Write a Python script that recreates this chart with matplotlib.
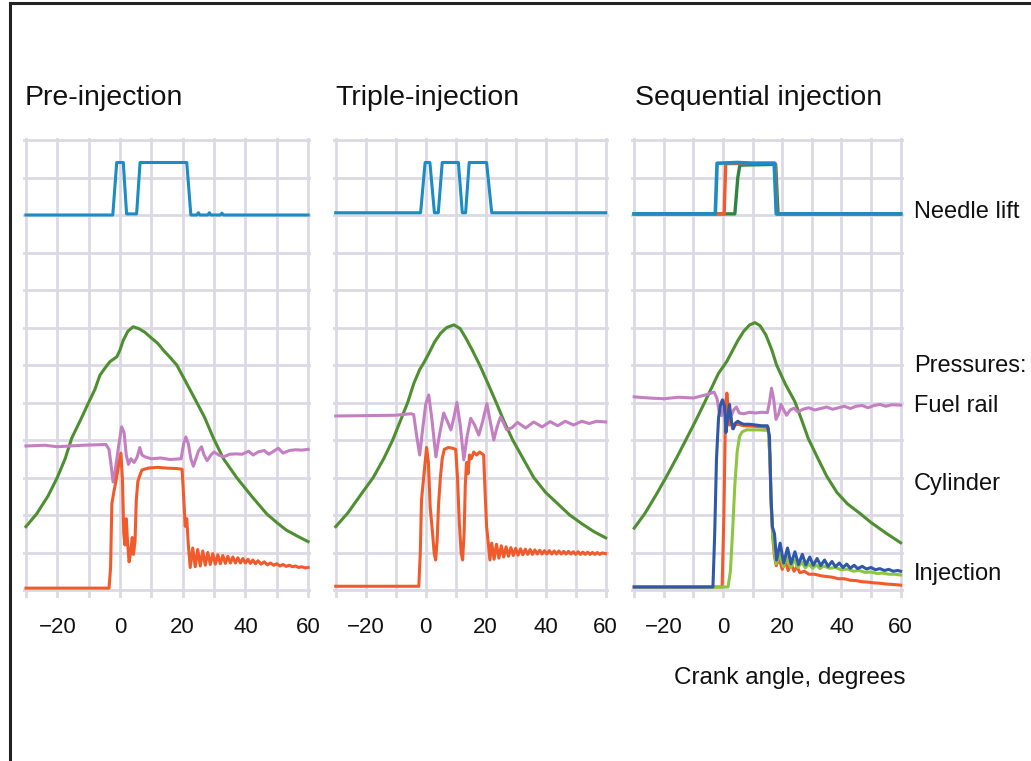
import matplotlib
matplotlib.use("Agg")
import matplotlib.pyplot as plt
from matplotlib.lines import Line2D

W, H = 1031, 761
FONT = ['Liberation Sans', 'DejaVu Sans']
plt.rcParams['font.family'] = FONT

# ---------------- data (crank angle in degrees, signal in grid units) ----------------
titles = ["Pre-injection", "Triple-injection", "Sequential injection"]
x_ticks = [-20, 0, 20, 40, 60]
row_labels = ["Needle lift", "Pressures:", "Fuel rail", "Cylinder", "Injection"]
x_label = "Crank angle, degrees"

# Panel 1 : pre-injection
p1_needle_x = [-30, -2.3, -1.05, 1.05, 2.1, 5.3, 6.4, 21.3, 22.6, 24.5, 25, 25.5, 28, 28.5, 29, 32, 32.5, 33, 60]
p1_needle_y = [10.0, 10.0, 11.4, 11.4, 10.03, 10.03, 11.4, 11.4, 10.0, 10.0, 10.06, 10.0, 10.0, 10.06, 10.0, 10.0, 10.05, 10.0, 10.0]

p1_cyl_x = [-30, -26.6, -23, -20, -17.5, -15.4, -12.5, -10, -8, -6.4, -4.5, -3.2, -1.0, 0, 1, 2.5, 4.2, 6, 8, 10,
            12, 14, 16, 18.1, 21, 24.5, 27, 29.8, 33, 37.2, 42, 46.8, 50, 53, 56.5, 60]
p1_cyl_y = [1.69, 2.03, 2.5, 3.0, 3.5, 4.05, 4.55, 5.0, 5.35, 5.73, 5.95, 6.09, 6.22, 6.4, 6.65, 6.9, 7.02, 6.97, 6.87, 6.72,
            6.58, 6.38, 6.2, 6.0, 5.55, 5.0, 4.6, 4.05, 3.5, 3.0, 2.5, 2.03, 1.8, 1.6, 1.44, 1.29]

p1_rail_x = [-30, -24, -20, -12, -4.5, -3.5, -2.8, -2.2, -1.5, -0.5, 0.5, 1.3, 2.0, 2.7, 3.5, 4.5, 5.5, 6.3, 7, 8, 10,
             13, 16, 19.5, 20.3, 21, 21.8, 22.6, 23.4, 24, 25, 26, 26.8, 27.8, 29, 30, 31.5, 33, 35, 37, 39, 41,
             42.5, 44, 46, 47.5, 49, 50.5, 52, 54, 56, 58, 60]
p1_rail_y = [3.84, 3.86, 3.82, 3.86, 3.88, 3.75, 3.3, 2.88, 3.2, 3.8, 4.35, 4.2, 3.6, 3.35, 3.5, 3.4, 3.55, 3.8, 3.6, 3.55, 3.5,
             3.52, 3.48, 3.5, 3.9, 4.08, 3.9, 3.5, 3.3, 3.45, 3.7, 3.82, 3.6, 3.45, 3.6, 3.68, 3.6, 3.55, 3.62, 3.63, 3.62, 3.7,
             3.6, 3.68, 3.72, 3.62, 3.7, 3.78, 3.65, 3.72, 3.74, 3.73, 3.75]

p1_inj_x = [-30, -3.5, -3.0, -2.6, -2.0, -1.3, -0.5, 0.3, 0.8, 1.2, 1.6, 2.0, 2.4, 2.9, 3.4, 3.9, 4.3, 4.8, 5.2, 5.7,
            6.3, 7, 9, 12, 15, 18, 19.8, 20.3, 20.8, 21.3, 21.8, 22.4, 23.2, 24.0, 24.8, 25.6, 26.4, 27.2, 28.0, 28.8,
            29.6, 30.4, 31.2, 32.0, 32.8, 33.6, 34.4, 35.2, 36.0, 36.8, 37.6, 38.4, 39.2, 40.0, 40.8, 41.6, 42.4, 43.2,
            44.0, 45, 46, 47, 48, 49, 50, 51, 52, 53, 54, 55, 56, 57, 58, 59, 60]
p1_inj_y = [0.05, 0.05, 0.6, 2.3, 2.6, 2.9, 3.3, 3.65, 2.9, 1.5, 1.2, 1.9, 1.3, 0.75, 1.0, 1.4, 0.95, 1.3, 2.4, 2.9,
            3.05, 3.2, 3.25, 3.27, 3.25, 3.24, 3.22, 2.5, 1.7, 1.9, 1.2, 0.6, 1.12, 0.62, 1.08, 0.64, 1.04, 0.66, 1.0, 0.68,
            0.97, 0.69, 0.94, 0.7, 0.92, 0.71, 0.9, 0.72, 0.88, 0.72, 0.86, 0.72, 0.84, 0.72, 0.82, 0.71, 0.8, 0.7,
            0.78, 0.69, 0.75, 0.67, 0.72, 0.66, 0.7, 0.64, 0.68, 0.63, 0.66, 0.62, 0.64, 0.6, 0.62, 0.59, 0.6]

# Panel 2 : triple-injection
p2_needle_x = [-30, -1.7, -0.2, 1.4, 2.9, 4.2, 5.5, 10.9, 12.2, 13.3, 14.5, 20.3, 22.0, 60]
p2_needle_y = [10.06, 10.06, 11.4, 11.4, 10.06, 10.06, 11.4, 11.4, 10.06, 10.06, 11.4, 11.4, 10.06, 10.06]

p2_cyl_x = [-30, -26, -22, -17.5, -14, -11, -8.5, -6, -4, -2, -0.7, 1, 3, 5, 7, 9.4, 11.5, 13.5, 15.5, 18, 20.5,
            23.5, 26, 29, 32.5, 36, 40, 44, 48, 52, 56, 60]
p2_cyl_y = [1.69, 2.05, 2.5, 3.0, 3.5, 4.0, 4.5, 5.0, 5.5, 5.88, 6.05, 6.3, 6.62, 6.85, 7.0, 7.07, 6.97, 6.7, 6.4, 6.0, 5.55,
            5.0, 4.52, 4.0, 3.5, 3.0, 2.6, 2.3, 2.0, 1.77, 1.56, 1.39]

p2_rail_x = [-30, -20, -10, -5, -4, -3, -2, -1, 0, 1, 2, 3.4, 4.5, 6, 7.2, 8.4, 9.4, 10.4, 11.5, 12.7, 13.8, 15,
             16.3, 17.7, 19, 20.4, 21.5, 22.7, 23.8, 24.9, 26, 27, 28.8, 30.6, 33.3, 36, 38.8, 41.5, 44, 46.5, 49.3,
             52, 54.5, 57, 60]
p2_rail_y = [4.64, 4.65, 4.66, 4.7, 4.68, 4.1, 3.6, 4.3, 4.95, 5.2, 4.6, 3.55, 4.1, 4.72, 4.5, 4.27, 4.6, 5.0, 4.4, 3.47,
             4.1, 4.58, 4.4, 4.13, 4.5, 4.97, 4.5, 4.0, 4.35, 4.61, 4.45, 4.27, 4.33, 4.47, 4.32, 4.48, 4.35, 4.49, 4.38,
             4.5, 4.4, 4.5, 4.44, 4.5, 4.48]

p2_inj_x = [-30, -2.3, -1.8, -1.4, -0.8, -0.2, 0.3, 0.9, 1.5, 2.2, 2.8, 3.3, 3.8, 4.3, 4.9, 5.5, 6.2, 7.5, 9, 10,
            10.6, 11.2, 11.8, 12.3, 12.8, 13.2, 13.6, 14.1, 14.6, 15.2, 16, 17, 18, 19.3, 19.8, 20.3, 20.8, 21.4,
            22.0, 22.8, 23.6, 24.4, 25.2, 26.0, 26.8, 27.6, 28.4, 29.2, 30.0, 30.8, 31.6, 32.4, 33.2, 34.0, 34.8,
            35.6, 36.4, 37.2, 38.0, 38.8, 39.6, 40.4, 41.2, 42.0, 42.8, 43.6, 44.4, 45.2, 46.0, 46.8, 47.6, 48.4,
            49.2, 50.0, 50.8, 51.6, 52.4, 53.2, 54.0, 54.8, 55.6, 56.4, 57.2, 58.0, 58.8, 60]
p2_inj_y = [0.1, 0.1, 1.0, 2.4, 2.9, 3.4, 3.8, 3.4, 2.2, 1.6, 1.0, 0.8, 1.3, 2.3, 3.0, 3.5, 3.75, 3.8, 3.78, 3.75,
            3.0, 1.8, 1.0, 0.8, 1.5, 2.8, 3.4, 3.1, 3.6, 3.5, 3.68, 3.6, 3.68, 3.6, 2.6, 1.7, 1.3, 0.8,
            1.25, 0.82, 1.22, 0.85, 1.18, 0.88, 1.15, 0.9, 1.13, 0.92, 1.11, 0.93, 1.1, 0.94, 1.09, 0.95, 1.08,
            0.95, 1.07, 0.96, 1.06, 0.96, 1.05, 0.96, 1.05, 0.96, 1.04, 0.96, 1.04, 0.96, 1.03, 0.96, 1.03, 0.96,
            1.02, 0.95, 1.02, 0.95, 1.01, 0.95, 1.01, 0.95, 1.0, 0.95, 1.0, 0.95, 0.99, 0.97]

# Panel 3 : sequential injection (three injectors)
p3_needle_green_x = [-30, 4.0, 5.0, 5.7, 17.8, 18.6, 60]
p3_needle_green_y = [10.03, 10.03, 11.0, 11.33, 11.35, 10.03, 10.03]
p3_needle_orange_x = [-30, 0.4, 0.9, 17.6, 18.2, 60]
p3_needle_orange_y = [10.03, 10.03, 11.37, 11.38, 10.03, 10.03]
p3_needle_blue_x = [-30, -2.6, -2.0, 5, 10, 17.3, 18.0, 60]
p3_needle_blue_y = [10.03, 10.03, 11.38, 11.4, 11.38, 11.38, 10.03, 10.03]

p3_cyl_x = [-30, -26.4, -22.5, -19, -15.5, -12.3, -9, -6.1, -3.5, -1.5, 0, 1.25, 3, 5, 7, 9, 10.8, 12.5, 14.5, 16.5,
            18.1, 21, 24.3, 26.5, 28.8, 31.8, 35, 38.5, 42, 46.3, 50, 55, 60]
p3_cyl_y = [1.65, 2.04, 2.55, 3.04, 3.55, 4.04, 4.55, 5.02, 5.45, 5.78, 5.95, 6.09, 6.35, 6.65, 6.9, 7.07, 7.13, 7.05, 6.8, 6.4,
            6.0, 5.5, 5.02, 4.55, 4.04, 3.55, 3.04, 2.6, 2.3, 2.04, 1.8, 1.52, 1.26]

p3_rail_x = [-30, -25, -20, -15, -10, -5, -3, -2, -1.3, -0.5, 0.3, 1.2, 2.0, 2.8, 3.6, 4.5, 5.5, 7, 9, 11, 13, 15,
             15.7, 16.4, 17.1, 17.9, 18.8, 19.6, 20.5, 21.5, 22.7, 24, 25.3, 27, 29, 31, 33, 35, 37, 39, 41, 43, 45,
             47, 49, 51, 53, 55, 57, 60]
p3_rail_y = [5.15, 5.12, 5.1, 5.14, 5.12, 5.22, 5.28, 5.1, 4.75, 4.65, 4.95, 5.12, 4.85, 4.65, 4.8, 4.88, 4.72, 4.7, 4.74,
             4.72, 4.74, 4.73, 5.0, 5.38, 5.1, 4.55, 4.7, 4.95, 4.8, 4.66, 4.8, 4.85, 4.75, 4.82, 4.86, 4.8, 4.84, 4.88,
             4.82, 4.86, 4.9, 4.84, 4.9, 4.92, 4.86, 4.92, 4.95, 4.9, 4.94, 4.93]

p3_inj_orange_x = [-30, -0.3, 0.3, 0.8, 1.3, 1.8, 2.2, 2.7, 3.2, 4, 5, 7, 10, 13, 15.3, 15.8, 16.3, 16.8, 17.4, 18,
                   19, 20, 21, 22, 23, 24, 25, 26, 27.5, 29, 31, 33, 35, 37, 39, 41, 43, 45, 47, 49, 51, 53, 55, 57, 60]
p3_inj_orange_y = [0.08, 0.08, 2.0, 4.5, 5.25, 4.8, 4.4, 4.6, 4.3, 4.4, 4.42, 4.38, 4.37, 4.35, 4.33, 3.6, 2.2, 1.4, 0.9, 0.65,
                   0.85, 0.55, 0.78, 0.52, 0.7, 0.5, 0.62, 0.46, 0.5, 0.42, 0.42, 0.38, 0.36, 0.34, 0.3, 0.3, 0.26, 0.25,
                   0.22, 0.21, 0.19, 0.18, 0.16, 0.15, 0.13]
p3_inj_lgreen_x = [-30, 1.7, 2.5, 3.2, 4.0, 4.8, 5.6, 6.5, 8, 10, 12, 14, 15.3, 15.9, 16.3, 16.8, 17.4, 18, 19.2, 20.4,
                   21.6, 22.8, 24.1, 25.3, 26.6, 27.8, 29, 30.3, 31.5, 32.8, 34, 36, 38, 40, 42, 44, 46, 48, 50, 52, 54,
                   56, 58, 60]
p3_inj_lgreen_y = [0.08, 0.08, 0.5, 1.5, 2.8, 3.7, 4.1, 4.22, 4.27, 4.27, 4.27, 4.26, 4.26, 3.5, 2.3, 1.5, 1.0, 0.7, 0.95, 0.62,
                   0.88, 0.6, 0.8, 0.6, 0.75, 0.59, 0.7, 0.58, 0.67, 0.57, 0.64, 0.58, 0.6, 0.54, 0.56, 0.5, 0.52, 0.47,
                   0.48, 0.44, 0.45, 0.42, 0.42, 0.4]
p3_inj_blue_x = [-30, -3.4, -2.8, -2.2, -1.5, -0.8, -0.2, 0.5, 1.0, 1.6, 2.2, 2.8, 3.5, 4.2, 5, 6, 7, 9, 11, 13, 15,
                 15.7, 16.2, 16.7, 17.4, 18.1, 19.3, 20.5, 21.8, 23.0, 24.3, 25.5, 26.8, 28, 29.3, 30.5, 31.8, 33, 34.3,
                 35.5, 36.8, 38, 39.3, 40.5, 41.8, 43, 44.3, 45.5, 47, 48.5, 50, 51.5, 53, 54.5, 56, 57.5, 59, 60]
p3_inj_blue_y = [0.08, 0.08, 1.5, 3.5, 4.6, 4.95, 5.07, 4.9, 4.2, 4.6, 4.95, 4.5, 4.3, 4.45, 4.5, 4.45, 4.42, 4.42, 4.4, 4.38,
                 4.38, 4.1, 2.5, 1.68, 1.5, 0.8, 1.25, 0.72, 1.12, 0.7, 1.02, 0.68, 0.95, 0.67, 0.88, 0.66, 0.84, 0.65, 0.8,
                 0.63, 0.76, 0.62, 0.72, 0.6, 0.69, 0.58, 0.66, 0.57, 0.63, 0.56, 0.6, 0.54, 0.57, 0.52, 0.55, 0.5, 0.52, 0.5]

# ---------------- styling ----------------
GRID = '#dcd9e5'
NEEDLE = '#1b8cc4'
CYL = '#4e8f2f'
RAIL = '#c47fc2'
INJ = '#f15a2b'
INJ_BLUE = '#2f58a8'
INJ_LGREEN = '#8dc63f'
NEEDLE_GREEN = '#2e8540'
LW = 2.2

fig = plt.figure(figsize=(W / 100, H / 100), dpi=100)
fig.patch.set_facecolor('white')

def px_axes(left, top, right, bottom):
    return fig.add_axes([left / W, 1 - bottom / H, (right - left) / W, (bottom - top) / H])

# pixel geometry of each panel (x=0 position, px per degree)
panels = [(120.0, 3.135), (425.7, 3.0), (723.0, 2.96)]
XL, XR = -31, 61
YB, YT = -0.2, 12.05
y0_px, unit_px = 590.0, 37.5
axes = []
for zero, scale in panels:
    left = zero + XL * scale
    right = zero + XR * scale
    top = y0_px - YT * unit_px
    bottom = y0_px - YB * unit_px
    ax = px_axes(left, top, right, bottom)
    ax.set_xlim(XL, XR)
    ax.set_ylim(YB, YT)
    for s in ax.spines.values():
        s.set_visible(False)
    for gx in range(-30, 61, 10):
        ax.axvline(gx, color=GRID, lw=2.0, zorder=0)
    for gy in range(0, 13):
        ax.axhline(gy, color=GRID, lw=2.0, zorder=0)
    ax.set_yticks([])
    ax.set_xticks(x_ticks)
    ax.set_xticklabels([f"\u2212{-t}" if t < 0 else str(t) for t in x_ticks])
    ax.tick_params(axis='x', length=0, pad=14, labelsize=16, labelcolor='#111111')
    ax.set_facecolor('none')
    axes.append(ax)

a1, a2, a3 = axes
a1.plot(p1_needle_x, p1_needle_y, color=NEEDLE, lw=LW)
a1.plot(p1_cyl_x, p1_cyl_y, color=CYL, lw=LW)
a1.plot(p1_rail_x, p1_rail_y, color=RAIL, lw=LW)
a1.plot(p1_inj_x, p1_inj_y, color=INJ, lw=LW)

a2.plot(p2_needle_x, p2_needle_y, color=NEEDLE, lw=LW)
a2.plot(p2_cyl_x, p2_cyl_y, color=CYL, lw=LW)
a2.plot(p2_rail_x, p2_rail_y, color=RAIL, lw=LW)
a2.plot(p2_inj_x, p2_inj_y, color=INJ, lw=LW)

a3.plot(p3_needle_green_x, p3_needle_green_y, color=NEEDLE_GREEN, lw=2.4)
a3.plot(p3_needle_orange_x, p3_needle_orange_y, color=INJ, lw=2.4)
a3.plot(p3_needle_blue_x, p3_needle_blue_y, color=NEEDLE, lw=2.6)
a3.plot(p3_cyl_x, p3_cyl_y, color=CYL, lw=LW)
a3.plot(p3_rail_x, p3_rail_y, color=RAIL, lw=LW)
a3.plot(p3_inj_orange_x, p3_inj_orange_y, color=INJ, lw=LW)
a3.plot(p3_inj_lgreen_x, p3_inj_lgreen_y, color=INJ_LGREEN, lw=LW)
a3.plot(p3_inj_blue_x, p3_inj_blue_y, color=INJ_BLUE, lw=LW)

def ftext(x, y, s, size, **kw):
    fig.text(x / W, 1 - y / H, s, fontsize=size, color='#111111', **kw)

title_x = [25, 335, 635]
for tx, t in zip(title_x, titles):
    ftext(tx, 105, t, 20.5, ha='left', va='baseline')

label_baselines = [218, 372, 412, 490, 580]
for lb, s in zip(label_baselines, row_labels):
    ftext(914, lb, s, 17, ha='left', va='baseline')

ftext(790, 684, x_label, 17.5, ha='center', va='baseline')

# outer frame (left and top edges)
fig.add_artist(Line2D([10 / W, 10 / W], [0, 1 - 3 / H], color='#222222', lw=2.2))
fig.add_artist(Line2D([10 / W, 1.0], [1 - 3 / H, 1 - 3 / H], color='#222222', lw=2.2))

fig.savefig("out.png", dpi=100, facecolor='white')
